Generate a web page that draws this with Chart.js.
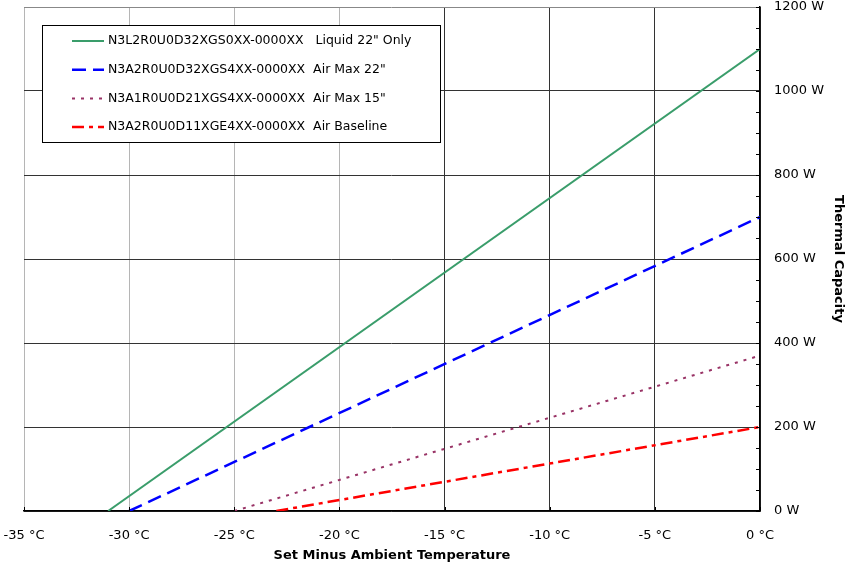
<!DOCTYPE html>
<html>
<head>
<meta charset="utf-8">
<script src="https://cdn.jsdelivr.net/npm/chart.js@4"></script>
<style>
  html, body { margin: 0; padding: 0; background: #fff; }
  #wrap { width: 851px; height: 566px; }
</style>
</head>
<body>
<div id="wrap"><canvas id="chart"></canvas></div>
<script>
"use strict";

// data
const seriesNames = [
  "N3L2R0U0D32XGS0XX-0000XX   Liquid 22\" Only",
  "N3A2R0U0D32XGS4XX-0000XX  Air Max 22\"",
  "N3A1R0U0D21XGS4XX-0000XX  Air Max 15\"",
  "N3A2R0U0D11XGE4XX-0000XX  Air Baseline",
];
const startTemps = [-31, -30, -25, -23];      // °C where capacity reaches 0 W
const capacityAtZero = [1100, 700, 370, 200];  // W at 0 °C
const xTicks = [-35, -30, -25, -20, -15, -10, -5, 0];
const yTicks = [0, 200, 400, 600, 800, 1000, 1200];

// styles
const colors = ["#3a9d6b", "#0000ff", "#993366", "#ff0000"];
const dashes = [[], [14, 7], [3, 6], [12, 5, 4, 5]];
const widths = [2, 2.5, 2, 2.5];

const FONT = "'DejaVu Sans', Verdana, sans-serif";

const datasets = seriesNames.map((name, i) => ({
  label: name,
  data: [
    { x: startTemps[i], y: 0 },
    { x: 0, y: capacityAtZero[i] },
  ],
  borderColor: colors[i],
  backgroundColor: colors[i],
  borderDash: dashes[i],
  borderWidth: widths[i],
  pointRadius: 0,
  tension: 0,
  fill: false,
}));

// boxed legend inside the plot
const boxLegend = {
  id: "boxLegend",
  afterDatasetsDraw(chart) {
    const ctx = chart.ctx;
    const x0 = 42, y0 = 25, w = 398, h = 117;
    ctx.save();
    ctx.fillStyle = "#fff";
    ctx.fillRect(x0, y0, w, h);
    ctx.strokeStyle = "#000";
    ctx.lineWidth = 1;
    ctx.strokeRect(x0 + 0.5, y0 + 0.5, w, h);
    ctx.font = "12.5px " + FONT;
    ctx.textBaseline = "middle";
    chart.data.datasets.forEach((ds, i) => {
      const y = 41 + i * 28.7;
      ctx.beginPath();
      ctx.strokeStyle = ds.borderColor;
      ctx.lineWidth = ds.borderWidth;
      ctx.setLineDash(ds.borderDash);
      ctx.moveTo(72, y);
      ctx.lineTo(104, y);
      ctx.stroke();
      ctx.setLineDash([]);
      ctx.fillStyle = "#000";
      ctx.fillText(ds.label, 108, y);
    });
    ctx.restore();
  },
};

// small inward ticks on the axes
const minorTicks = {
  id: "minorTicks",
  afterDraw(chart) {
    const ctx = chart.ctx;
    const xs = chart.scales.x, ys = chart.scales.y;
    const area = chart.chartArea;
    ctx.save();
    ctx.strokeStyle = "#000";
    ctx.lineWidth = 1;
    ctx.beginPath();
    for (let v = 0; v <= 1200; v += 50) {
      const py = Math.round(ys.getPixelForValue(v)) + 0.5;
      ctx.moveTo(area.right - 4, py);
      ctx.lineTo(area.right, py);
    }
    xTicks.forEach((v) => {
      const px = Math.round(xs.getPixelForValue(v)) + 0.5;
      ctx.moveTo(px, area.bottom);
      ctx.lineTo(px, area.bottom - 4);
    });
    ctx.stroke();
    ctx.restore();
  },
};

function noPad(scale) {
  scale.paddingLeft = 0;
  scale.paddingRight = 0;
  scale.paddingTop = 0;
  scale.paddingBottom = 0;
}

const ctx = document.getElementById("chart").getContext("2d");
new Chart(ctx, {
  type: "line",
  data: { datasets: datasets },
  plugins: [boxLegend, minorTicks],
  options: {
    responsive: true,
    maintainAspectRatio: false,
    animation: false,
    layout: { padding: { left: 24, top: 7, right: 0, bottom: 0 } },
    plugins: {
      legend: { display: false },
      tooltip: { enabled: false },
    },
    scales: {
      x: {
        type: "linear",
        min: -35,
        max: 0,
        afterBuildTicks: (scale) => {
          scale.ticks = xTicks.map((v) => ({ value: v }));
        },
        afterFit: (scale) => { scale.height = 55; noPad(scale); },
        grid: {
          drawTicks: false,
          color: (c) => (c.tick && c.tick.value >= -15 ? "#333" : "#b5b5b5"),
          lineWidth: 1,
        },
        border: { color: "#000", width: 1.5 },
        ticks: {
          padding: 17,
          color: "#000",
          font: { family: FONT, size: 13 },
          maxRotation: 0,
          autoSkip: false,
          callback: (v) => v + " °C",
        },
        title: {
          display: true,
          text: "Set Minus Ambient Temperature",
          color: "#000",
          font: { family: FONT, size: 13, weight: "bold" },
          padding: { top: 0, bottom: 3 },
        },
      },
      y: {
        position: "right",
        min: 0,
        max: 1200,
        afterBuildTicks: (scale) => {
          scale.ticks = yTicks.map((v) => ({ value: v }));
        },
        afterFit: (scale) => { scale.width = 91; noPad(scale); },
        grid: {
          drawTicks: false,
          color: (c) => (c.tick && c.tick.value === 1200 ? "#888" : "#333"),
          lineWidth: 1,
        },
        border: { color: "#000", width: 1.5 },
        ticks: {
          padding: 14,
          color: "#000",
          font: { family: FONT, size: 13 },
          autoSkip: false,
          callback: (v) => v + " W",
        },
        title: {
          display: true,
          text: "Thermal Capacity",
          color: "#000",
          font: { family: FONT, size: 13, weight: "bold" },
          padding: { top: 5, bottom: 0 },
        },
      },
    },
  },
});
</script>
</body>
</html>
